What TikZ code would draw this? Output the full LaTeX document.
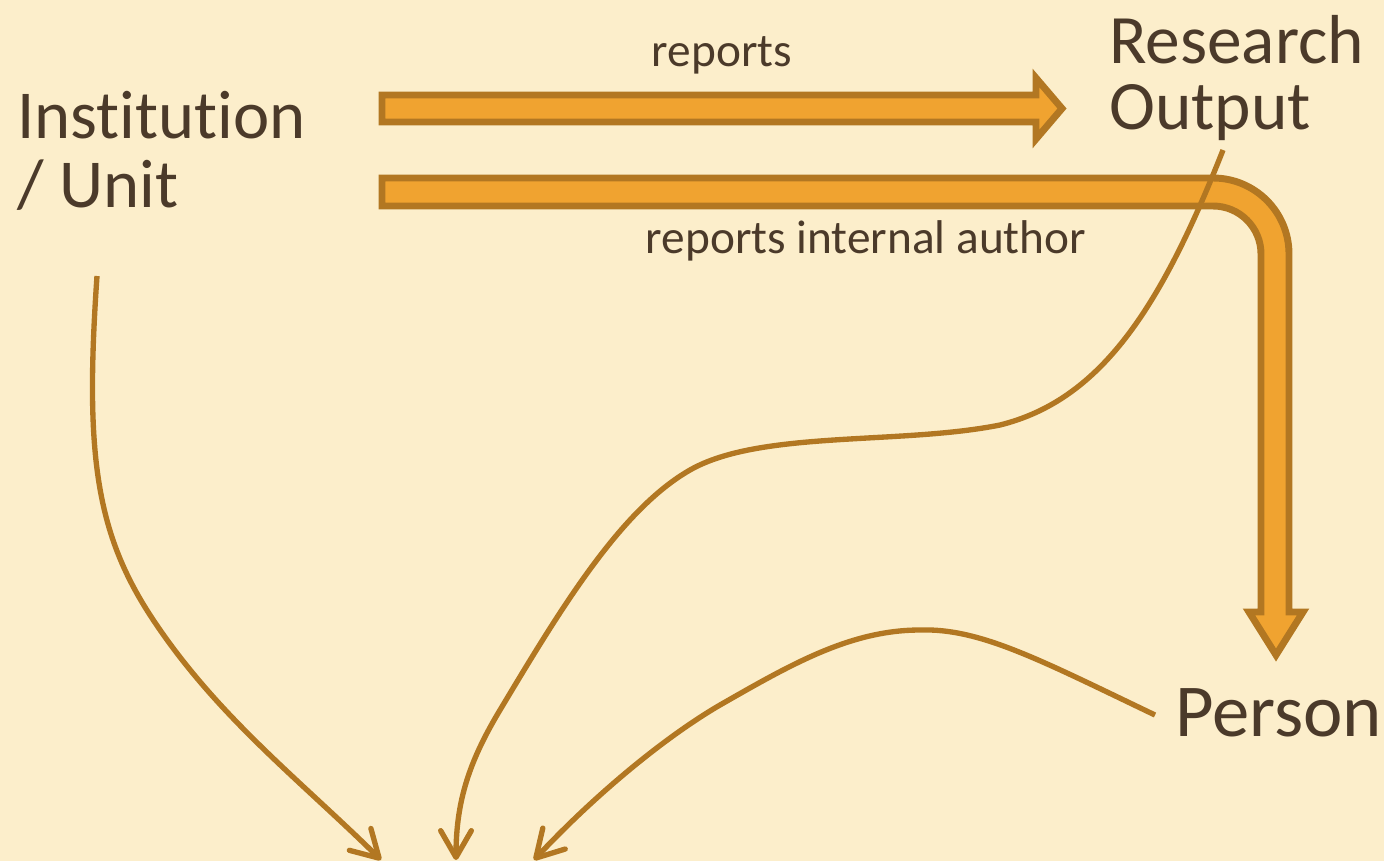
\documentclass[tikz,border=0pt]{standalone}
\usepackage{fontspec}
\setmainfont{Carlito}[Ligatures=NoCommon]
\usetikzlibrary{arrows.meta}
\definecolor{bg}{HTML}{FCEECB}
\definecolor{arrfill}{HTML}{F0A330}
\definecolor{arrline}{HTML}{B27722}
\definecolor{txt}{HTML}{4B3A2A}
\tikzset{
  bigtext/.style={inner sep=0pt, text=txt, align=left},
  lbltext/.style={inner sep=0pt, text=txt, font=\fontsize{35.5}{38}\selectfont},
  blockarrow/.style={draw=arrline, fill=arrfill, line width=5.2pt, line join=miter},
  thin/.style={draw=arrline, line width=4pt, -{Straight Barb[length=20pt,width=23pt,line width=4pt,round]}}
}
\begin{document}
\begin{tikzpicture}[x=0.75pt,y=-0.75pt]
\fill[bg] (0,0) rectangle (1384,861);
\useasboundingbox (0,0) rectangle (1384,861);
% text nodes
\node[bigtext, anchor=north west, font=\fontsize{51.5}{52}\selectfont] (inst) at (17,91) {Institution\\/ Unit};
\node[bigtext, anchor=north west, font=\fontsize{52}{49.5}\selectfont] (ro) at (1109,15) {Research\\Output};
\node[bigtext, anchor=base west, font=\fontsize{56}{58}\selectfont] (person) at (1175,736) {Person};
\node[lbltext, anchor=base] (l1) at (722,66) {reports};
\node[lbltext, anchor=base] (l2) at (866,253) {reports internal author};
% connector endpoints
\coordinate (instOut) at (97,276);
\coordinate (roOut) at (1223,150);
\coordinate (perOut) at (1155,715);
\coordinate (t1) at (381,860);
\coordinate (t2) at (456,860);
\coordinate (t3) at (534,860);
% block arrow 1
\path[blockarrow] (382,95) -- (1036,95) -- (1036,78) -- (1062,108.5) -- (1036,139) -- (1036,122) -- (382,122) -- cycle;
% block arrow 2 (bent)
\path[blockarrow] (382,178) -- (1213,178) arc[start angle=-90, end angle=0, radius=76]
  -- (1289,612) -- (1303,612) -- (1276,655) -- (1249,612) -- (1261,612)
  -- (1261,254) arc[start angle=0, end angle=-90, radius=48] -- (382,206) -- cycle;
% thin connectors
\draw[thin] (instOut) .. controls (85,450) and (95,530) .. (150,615)
  .. controls (215,715) and (300,780) .. (t1);
\draw[thin] (roOut) .. controls (1160,310) and (1100,400) .. (1000,425)
  .. controls (900,445) and (760,430) .. (690,470)
  .. controls (620,510) and (560,610) .. (500,710)
  .. controls (470,760) and (456,800) .. (t2);
\draw[thin] (perOut) .. controls (1040,660) and (980,628) .. (920,630)
  .. controls (850,630) and (790,665) .. (720,705)
  .. controls (660,740) and (590,800) .. (t3);
\end{tikzpicture}
\end{document}
